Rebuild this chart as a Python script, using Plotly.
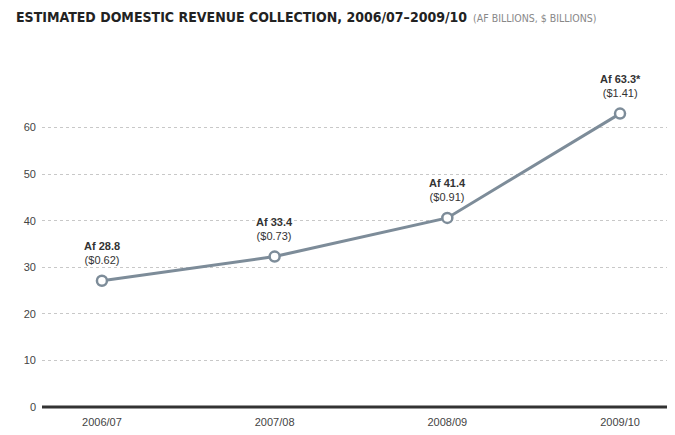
import plotly.graph_objects as go

years = ["2006/07", "2007/08", "2008/09", "2009/10"]
revenue_af = [27.1, 32.3, 40.6, 63.0]
af_labels = ["Af 28.8", "Af 33.4", "Af 41.4", "Af 63.3*"]
usd_labels = ["($0.62)", "($0.73)", "($0.91)", "($1.41)"]
y_ticks = [0, 10, 20, 30, 40, 50, 60]

line_color = "#7d8c99"
font_family = "Liberation Sans, Arial, sans-serif"

fig = go.Figure()
fig.add_trace(go.Scatter(
    x=list(range(len(years))), y=revenue_af, mode="lines+markers",
    line=dict(color=line_color, width=3),
    marker=dict(size=10, color="white", line=dict(color=line_color, width=2.5)),
    cliponaxis=False, hoverinfo="skip",
))

for i, (v, a, u) in enumerate(zip(revenue_af, af_labels, usd_labels)):
    fig.add_annotation(
        x=i, y=v, text=f"<b>{a}</b><br>{u}", showarrow=False,
        yanchor="bottom", yshift=13, align="center",
        font=dict(family=font_family, size=11, color="#333"),
    )

fig.add_annotation(
    xref="paper", yref="paper", x=-0.045, y=1.0, xanchor="left", yanchor="middle",
    yshift=64, showarrow=False,
    text="<b>ESTIMATED DOMESTIC REVENUE COLLECTION, 2006/07–2009/10</b>"
         "<span style='font-size:10.5px;color:#888'>  (AF BILLIONS, $ BILLIONS)</span>",
    font=dict(family="DejaVu Sans Condensed, Liberation Sans Narrow, sans-serif", size=14, color="#222"),
)

# baseline extending to the right edge
fig.add_shape(type="line", xref="paper", yref="paper", x0=0, x1=1.03, y0=0, y1=0,
              line=dict(color="#333", width=3), layer="above")

fig.update_layout(
    width=675, height=435,
    margin=dict(l=34, r=16, t=73, b=36),
    plot_bgcolor="white", paper_bgcolor="white",
    showlegend=False,
    font=dict(family=font_family, size=11, color="#444"),
    xaxis=dict(
        range=[-0.347, 3.272], tickmode="array",
        tickvals=list(range(len(years))), ticktext=years,
        showgrid=False, zeroline=False, showline=False, ticks="",
        ticklabelstandoff=7,
        tickfont=dict(size=11, color="#444"),
    ),
    yaxis=dict(
        range=[0, 70], tickmode="array", tickvals=y_ticks,
        showgrid=True, gridcolor="#c8c8c8", griddash="dot", gridwidth=1,
        zeroline=False,
        showline=False, ticks="", ticklabelstandoff=5,
        tickfont=dict(size=11, color="#444"),
    ),
)

fig.write_html("out.html")
